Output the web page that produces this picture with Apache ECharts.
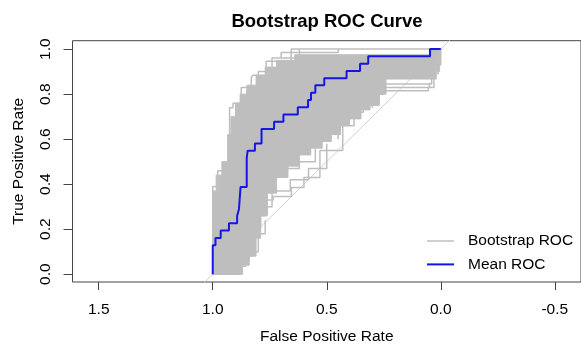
<!DOCTYPE html>
<html><head><meta charset="utf-8">
<script src="https://cdn.jsdelivr.net/npm/echarts@6/dist/echarts.min.js"></script>
<style>html,body{margin:0;padding:0;background:#fff}#c{width:581px;height:350px}</style>
</head><body><div id="c"></div>
<script>
// ---- data (x = specificity shown on reversed axis, y = sensitivity) ----
const xTicks = [1.5, 1.0, 0.5, 0.0, -0.5];
const yTicks = [0.0, 0.2, 0.4, 0.6, 0.8, 1.0];

// mean ROC step curve vertices
const meanROC = [
  [1.0,0],[1.0,0.129],[0.988,0.129],[0.988,0.161],[0.965,0.161],[0.965,0.194],
  [0.929,0.194],[0.929,0.226],[0.893,0.226],[0.893,0.258],[0.885,0.258],[0.885,0.29],
  [0.878,0.29],[0.878,0.387],[0.851,0.387],[0.851,0.516],[0.847,0.516],[0.847,0.548],
  [0.815,0.548],[0.815,0.581],[0.786,0.581],[0.786,0.645],[0.731,0.645],[0.731,0.677],
  [0.69,0.677],[0.69,0.71],[0.627,0.71],[0.627,0.742],[0.582,0.742],[0.582,0.774],
  [0.569,0.774],[0.569,0.806],[0.55,0.806],[0.55,0.839],[0.511,0.839],[0.511,0.871],
  [0.413,0.871],[0.413,0.903],[0.354,0.903],[0.354,0.935],[0.318,0.935],[0.318,0.968],
  [0.047,0.968],[0.047,1.0],[0,1.0]
];

// outermost bootstrap curves (upper-left and lower-right extremes)
const bootUpperOuter = [
  [1.0,0],[1.0,0.39],[0.978,0.39],[0.978,0.46],[0.955,0.46],[0.955,0.49],[0.926,0.49],
  [0.926,0.74],[0.911,0.74],[0.911,0.76],[0.875,0.76],[0.875,0.83],[0.831,0.83],
  [0.831,0.874],[0.824,0.874],[0.824,0.884],[0.766,0.884],[0.766,0.946],[0.656,0.946],
  [0.656,1.0],[0,1.0]
];
const bootLowerOuter = [
  [1.0,0],[0.876,0],[0.876,0.035],[0.855,0.035],[0.855,0.08],[0.83,0.08],[0.83,0.12],
  [0.815,0.12],[0.815,0.2],[0.79,0.2],[0.79,0.26],[0.765,0.26],[0.765,0.33],[0.735,0.33],
  [0.735,0.345],[0.655,0.345],[0.655,0.385],[0.6,0.385],[0.6,0.43],[0.53,0.43],[0.53,0.55],
  [0.43,0.55],[0.43,0.72],[0.34,0.72],[0.34,0.79],[0.27,0.79],[0.27,0.815],[0.055,0.815],
  [0.055,0.83],[0.03,0.83],[0.03,0.89],[0.012,0.89],[0.012,0.93],[0,0.93],[0,1.0]
];
// a few more visible individual bootstrap curves
const bootExtraA = [[0.80,0.44],[0.70,0.44],[0.70,0.47],[0.62,0.47],[0.62,0.5],[0.55,0.5],[0.55,0.56]];
const bootExtraB = [[0.45,0.6],[0.45,0.66],[0.38,0.66],[0.38,0.76],[0.27,0.76],[0.27,0.83],[0.05,0.83],[0.05,0.85]];
const bootExtraC = [[0.85,0.78],[0.85,0.82],[0.8,0.82],[0.8,0.9],[0.74,0.9],[0.74,0.96],[0.62,0.96],[0.62,1.0]];
const bootExtraD = [[0.78,0.3],[0.74,0.3],[0.74,0.37],[0.66,0.37],[0.66,0.42],[0.58,0.42],[0.58,0.47],[0.5,0.47],[0.5,0.58]];
const bootExtraE = [[0.86,0.06],[0.84,0.06],[0.84,0.1],[0.8,0.1],[0.8,0.18],[0.77,0.18],[0.77,0.24]];
const bootExtraF = [[0.3,0.74],[0.3,0.8],[0.25,0.8],[0.25,0.845],[0.04,0.845],[0.04,0.87]];
const bootExtraG = [[0.7,0.96],[0.7,0.985],[0.45,0.985],[0.45,1.0]];

// dense core of overlapping bootstrap curves (boundary, upper then lower)
const coreUpper = [
  [1.0,0],[1.0,0.37],[0.985,0.37],[0.985,0.44],[0.96,0.44],[0.96,0.5],[0.935,0.5],
  [0.935,0.62],[0.92,0.62],[0.92,0.7],[0.9,0.7],[0.9,0.76],[0.88,0.76],[0.88,0.8],
  [0.85,0.8],[0.85,0.84],[0.81,0.84],[0.81,0.88],[0.77,0.88],[0.77,0.92],[0.72,0.92],
  [0.72,0.95],[0.64,0.95],[0.64,0.975],[0.05,0.975],[0.05,1.0],[0.005,1.0]
];
const coreLower = [
  [0.005,1.0],[0.005,0.9],[0.02,0.9],[0.02,0.867],[0.24,0.867],[0.24,0.8],[0.27,0.8],
  [0.27,0.75],[0.31,0.75],[0.31,0.73],[0.35,0.73],[0.35,0.69],[0.4,0.69],[0.4,0.66],
  [0.44,0.66],[0.44,0.62],[0.48,0.62],[0.48,0.59],[0.52,0.59],[0.52,0.56],[0.57,0.56],
  [0.57,0.53],[0.62,0.53],[0.62,0.48],[0.67,0.48],[0.67,0.43],[0.72,0.43],[0.72,0.36],
  [0.76,0.36],[0.76,0.26],[0.79,0.26],[0.79,0.16],[0.81,0.16],[0.81,0.08],[0.84,0.08],
  [0.84,0.04],[0.87,0.04],[0.87,0],[1.0,0]
];
const diagonal = [[1.2,-0.2],[-0.2,1.2]];

// ---- chart ----
const FONT = '"Liberation Sans", Arial, sans-serif';
const GRAY = '#bebebe';
const BLUE = '#1515e6';
const chart = echarts.init(document.getElementById('c'), null, {renderer: 'canvas'});

function grayLine(name, data) {
  return {type: 'line', name: name, data: data, symbol: 'none', silent: true,
    lineStyle: {color: GRAY, width: 1.5}, itemStyle: {color: GRAY}, z: 3, clip: true};
}

const corePoly = coreUpper.concat(coreLower);

chart.setOption({
  animation: false,
  backgroundColor: '#fff',
  title: {
    text: 'Bootstrap ROC Curve', left: 327, top: 12, textAlign: 'center', padding: 0,
    textStyle: {fontFamily: FONT, fontSize: 18.5, fontWeight: 'bold', color: '#000'}
  },
  legend: {
    data: [
      {name: 'Bootstrap ROC', icon: 'rect', itemStyle: {color: '#d0d0d0'}},
      {name: 'Mean ROC', icon: 'rect', itemStyle: {color: BLUE}}
    ],
    orient: 'vertical', left: 427, top: 233, selectedMode: false,
    itemWidth: 27, itemHeight: 2, itemGap: 7.4, padding: 0,
    textStyle: {fontFamily: FONT, fontSize: 15.5, lineHeight: 16, color: '#000', padding: [0,0,0,9]}
  },
  grid: {left: 72.5, top: 40.7, width: 510.7, height: 246.6, show: true,
    borderColor: '#444', borderWidth: 1, containLabel: false},
  xAxis: {
    type: 'value', inverse: true, min: -0.615, max: 1.615,
    name: 'False Positive Rate', nameLocation: 'middle', nameGap: 47,
    nameTextStyle: {fontFamily: FONT, fontSize: 15.5, color: '#000'},
    axisLine: {show: false, onZero: false}, splitLine: {show: false},
    axisTick: {show: true, length: 8, inside: false, customValues: xTicks, lineStyle: {color: '#444'}},
    axisLabel: {customValues: xTicks, margin: 20, fontFamily: FONT, fontSize: 15.5, color: '#000',
      formatter: v => v.toFixed(1)}
  },
  yAxis: {
    type: 'value', min: -0.0348, max: 1.0374,
    name: 'True Positive Rate', nameLocation: 'middle', nameGap: 46,
    nameTextStyle: {fontFamily: FONT, fontSize: 15.5, color: '#000'},
    axisLine: {show: false, onZero: false}, splitLine: {show: false},
    axisTick: {show: true, length: 9, inside: false, customValues: yTicks, lineStyle: {color: '#444'}},
    axisLabel: {customValues: yTicks, rotate: 90, margin: 19, fontFamily: FONT, fontSize: 15.5, color: '#000',
      formatter: v => v.toFixed(1)}
  },
  series: [
    grayLine('Bootstrap ROC', bootUpperOuter),
    {type: 'line', name: 'diag', data: diagonal, symbol: 'none', silent: true, clip: true,
      lineStyle: {color: '#cfcfcf', width: 1}, z: 1},
    {type: 'custom', name: 'Bootstrap ROC', data: [0], silent: true, z: 2,
      renderItem: function (params, api) {
        const pts = corePoly.map(p => api.coord(p));
        return {type: 'polygon', shape: {points: pts}, style: {fill: GRAY, stroke: GRAY, lineWidth: 1}};
      }},
    grayLine('Bootstrap ROC', bootLowerOuter),
    grayLine('Bootstrap ROC', bootExtraA),
    grayLine('Bootstrap ROC', bootExtraB),
    grayLine('Bootstrap ROC', bootExtraC),
    grayLine('Bootstrap ROC', bootExtraD),
    grayLine('Bootstrap ROC', bootExtraE),
    grayLine('Bootstrap ROC', bootExtraF),
    grayLine('Bootstrap ROC', bootExtraG),
    {type: 'line', name: 'Mean ROC', data: meanROC, symbol: 'none', silent: true, clip: true,
      lineStyle: {color: BLUE, width: 2}, itemStyle: {color: BLUE}, z: 10}
  ]
});
</script></body></html>
